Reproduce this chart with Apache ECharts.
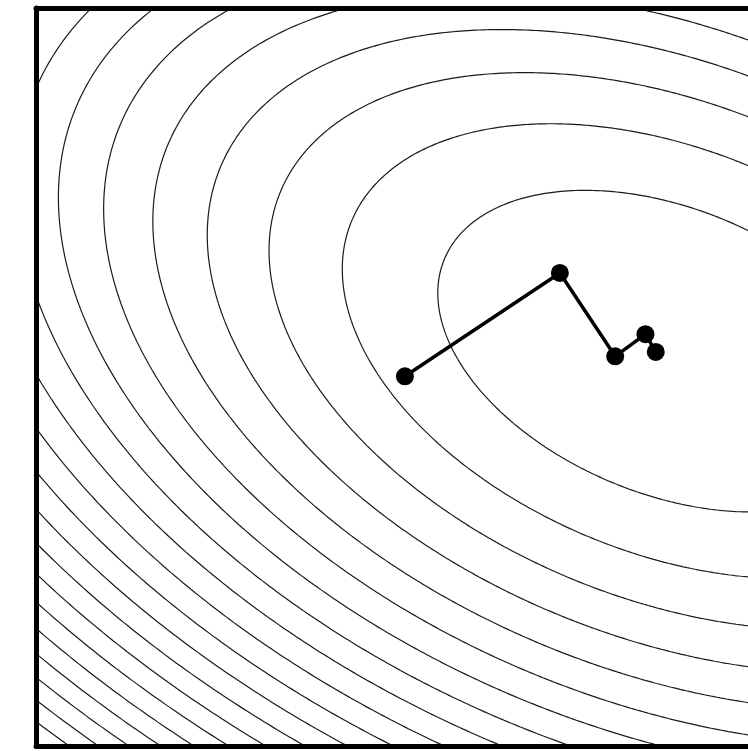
<!DOCTYPE html>
<html>
<head>
<meta charset="utf-8">
<script src="https://cdn.jsdelivr.net/npm/echarts@6/dist/echarts.min.js"></script>
<style>
  html, body { margin: 0; padding: 0; background: #fff; }
  #chart { width: 748px; height: 751px; }
</style>
</head>
<body>
<div id="chart"></div>
<script>
// Gradient-descent iterates on a quadratic bowl
const pathX = [5.00, 7.10, 7.85, 8.26, 8.40];
const pathY = [5.01, 6.41, 5.28, 5.58, 5.34];

// Quadratic objective f(x, y) = a*dx^2 + 2*b*dx*dy + c*dy^2 around its minimum
const minimumPoint = [8.57, 5.35];
const quadCoef = [0.1178, 0.0610, 0.2422]; // a, b, c
const contourLevels = [1, 2, 3, 4, 5, 6, 7, 8, 9, 10, 11, 12,
                       13, 14, 15, 16, 17, 18, 19, 20, 21, 22, 23, 24];

// Visible window of the (x, y) plane
const xRange = [0, 9.65];
const yRange = [0, 10];

// Level set of the quadratic, traced by angle around the minimum
function levelCurve(level) {
  const [a, b, c] = quadCoef;
  const pts = [];
  const n = 720;
  for (let i = 0; i <= n; i++) {
    const t = (i / n) * Math.PI * 2;
    const ct = Math.cos(t), st = Math.sin(t);
    const q = a * ct * ct + 2 * b * ct * st + c * st * st;
    const r = Math.sqrt(level / q);
    pts.push([minimumPoint[0] + r * ct, minimumPoint[1] + r * st]);
  }
  return pts;
}

const contourSeries = contourLevels.map(function (lv) {
  return {
    type: 'line',
    data: levelCurve(lv),
    showSymbol: false,
    symbol: 'none',
    smooth: false,
    clip: true,
    silent: true,
    lineStyle: { color: '#1a1a1a', width: 1.2 },
    z: 2
  };
});

const pathSeries = {
  type: 'line',
  data: pathX.map(function (x, i) { return [x, pathY[i]]; }),
  symbol: 'circle',
  symbolSize: 18,
  showSymbol: true,
  clip: false,
  lineStyle: { color: '#000', width: 3.5 },
  itemStyle: { color: '#000', borderWidth: 0 },
  z: 5
};

function frameAxis(range, showLine) {
  return {
    type: 'value',
    min: range[0], max: range[1],
    axisLine: { show: showLine, onZero: false, lineStyle: { color: '#000', width: 5 } },
    axisTick: { show: false },
    axisLabel: { show: false },
    splitLine: { show: false },
    z: 10
  };
}

const chart = echarts.init(document.getElementById('chart'), null, { renderer: 'canvas' });
chart.setOption({
  animation: false,
  backgroundColor: '#fff',
  grid: { left: 36, right: 0, top: 8, bottom: 5, containLabel: false },
  xAxis: [
    Object.assign(frameAxis(xRange, true), { position: 'bottom' }),
    Object.assign(frameAxis(xRange, true), { position: 'top' })
  ],
  yAxis: [
    Object.assign(frameAxis(yRange, true), { position: 'left' }),
    Object.assign(frameAxis(yRange, false), { position: 'right' })
  ],
  series: contourSeries.concat([pathSeries])
});
</script>
</body>
</html>
